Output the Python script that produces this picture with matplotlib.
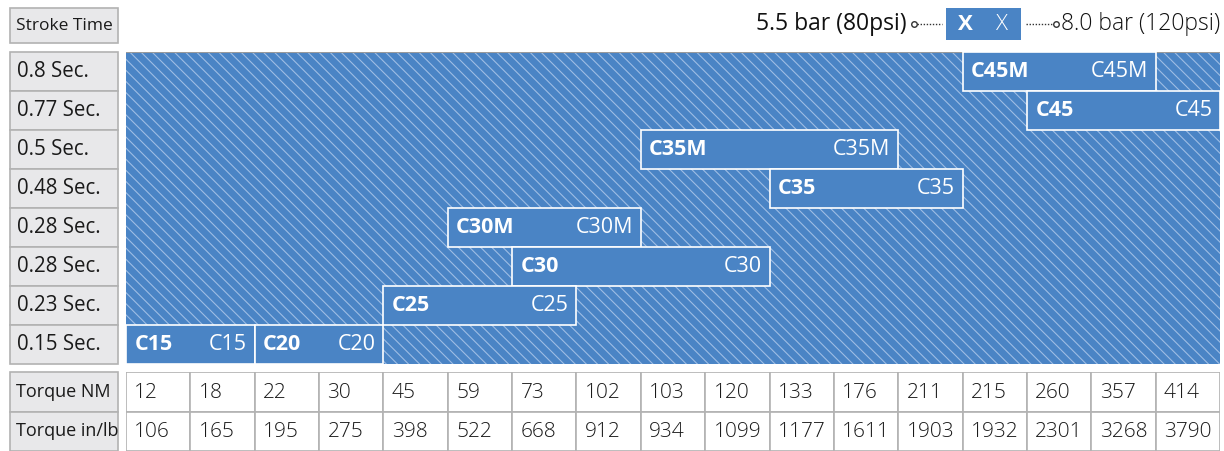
import matplotlib.pyplot as plt
from matplotlib.patches import Rectangle

plt.rcParams['font.family'] = ['Open Sans', 'DejaVu Sans']
plt.rcParams['hatch.linewidth'] = 0.8

stroke_times = ['0.8 Sec.', '0.77 Sec.', '0.5 Sec.', '0.48 Sec.',
                '0.28 Sec.', '0.28 Sec.', '0.23 Sec.', '0.15 Sec.']
models = ['C45M', 'C45', 'C35M', 'C35', 'C30M', 'C30', 'C25', 'C15', 'C20']
model_row = [0, 1, 2, 3, 4, 5, 6, 7, 7]
model_start = [13, 14, 8, 10, 5, 6, 4, 0, 2]
model_span = [3, 3, 4, 3, 3, 4, 3, 2, 2]
torque_nm = [12, 18, 22, 30, 45, 59, 73, 102, 103, 120, 133, 176, 211, 215, 260, 357, 414]
torque_inlb = [106, 165, 195, 275, 398, 522, 668, 912, 934, 1099, 1177, 1611, 1903,
               1932, 2301, 3268, 3790]
table_rows = ['Torque NM', 'Torque in/lb']

blue = '#4a84c5'
grey_fill = '#e8e8ea'
grey_edge = '#b2b2b2'
W, H = 1224, 451

fig = plt.figure(figsize=(12.24, 4.51), dpi=100)

# overlay in pixel units for the label boxes and legend
ax0 = fig.add_axes([0, 0, 1, 1])
ax0.set_xlim(0, W)
ax0.set_ylim(H, 0)
ax0.axis('off')

# Stroke Time header
ax0.add_patch(Rectangle((10, 8), 108, 35, facecolor=grey_fill, edgecolor=grey_edge, lw=1.2))
ax0.text(16, 26, 'Stroke Time', fontsize=12.5, va='center', ha='left', color='#1a1a1a')

# row label boxes
top, bottom = 52, 364
rh = (bottom - top) / len(stroke_times)
for i, lab in enumerate(stroke_times):
    y = top + i * rh
    ax0.add_patch(Rectangle((10, y), 108, rh, facecolor=grey_fill, edgecolor=grey_edge, lw=1.2))
    ax0.text(17, y + rh / 2, lab, fontsize=14.8, va='center', ha='left', color='#1a1a1a')

# table label boxes
ttop = 372
trh = 39.5
for i, lab in enumerate(table_rows):
    y = ttop + i * trh
    ax0.add_patch(Rectangle((10, y), 108, trh, facecolor=grey_fill, edgecolor=grey_edge, lw=1.2))
    ax0.text(16, y + trh / 2, lab, fontsize=13, va='center', ha='left', color='#1a1a1a')

# legend
ax0.text(907, 24, '5.5 bar (80psi)', fontsize=16.5, fontweight='medium', ha='right',
         va='center', color='#111111')
ax0.plot([914, 942], [24, 24], ls=(0, (1, 1.2)), color='#333333', lw=1)
ax0.plot([914], [24], marker='o', ms=4, mfc='white', mec='#333333', mew=1)
ax0.add_patch(Rectangle((946, 8), 75, 32, facecolor=blue, edgecolor='none'))
ax0.text(965, 25, 'X', fontsize=16, fontweight='bold', color='white', ha='center', va='center')
ax0.text(1002, 25, 'X', fontsize=16, fontweight='light', color='white', ha='center', va='center')
ax0.plot([1026, 1054], [24, 24], ls=(0, (1, 1.2)), color='#333333', lw=1)
ax0.plot([1056], [24], marker='o', ms=4, mfc='white', mec='#333333', mew=1)
ax0.text(1061, 24, '8.0 bar (120psi)', fontsize=16.5, fontweight='light', ha='left',
         va='center', color='#111111')

# main chart in column/row units
ncol = len(torque_nm)
ax = fig.add_axes([126 / W, 1 - bottom / H, (1220 - 126) / W, (bottom - top) / H])
ax.set_xlim(0, ncol)
ax.set_ylim(len(stroke_times), 0)
ax.axis('off')
ax.add_patch(Rectangle((0, 0), ncol, len(stroke_times), facecolor=blue,
                       edgecolor='#9ebde4', lw=0, hatch='\\\\\\', zorder=0))
ax.plot([0, ncol], [0, 0], color='#9a9a9a', lw=1.5, zorder=1)

ax.barh([r + 0.5 for r in model_row], model_span, left=model_start, height=1.0,
        color=blue, edgecolor='white', linewidth=1.2, zorder=2)
for name, r, s, n in zip(models, model_row, model_start, model_span):
    ax.text(s + 0.13, r + 0.5, name, fontsize=15.5, fontweight='bold', color='white',
            ha='left', va='center', zorder=3)
    ax.text(s + n - 0.12, r + 0.5, name, fontsize=15.5, fontweight='normal', color='white',
            ha='right', va='center', zorder=3)

# torque table
axt = fig.add_axes([126 / W, 1 - (ttop + 2 * trh) / H, (1220 - 126) / W, 2 * trh / H])
axt.set_xlim(0, ncol)
axt.set_ylim(2, 0)
axt.axis('off')
for r, vals in enumerate([torque_nm, torque_inlb]):
    for c, v in enumerate(vals):
        axt.add_patch(Rectangle((c, r), 1, 1, facecolor='white', edgecolor=grey_edge, lw=1.2))
        axt.text(c + 0.13, r + 0.52, str(v), fontsize=15, fontweight='light',
                 color='#1a1a1a', ha='left', va='center')

fig.savefig('out.png', dpi=100)
